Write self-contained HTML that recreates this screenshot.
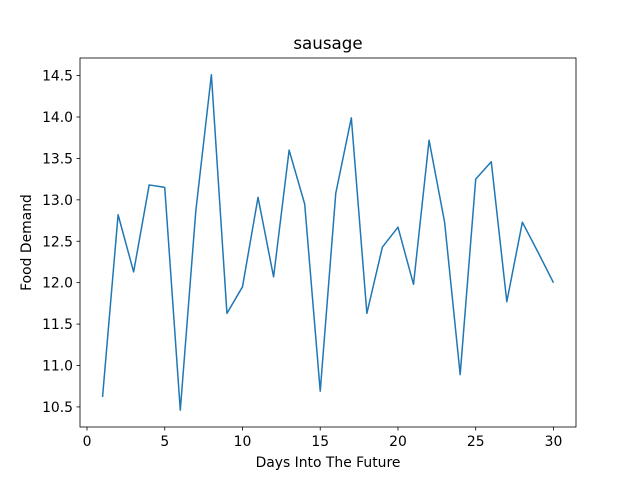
<!DOCTYPE html>
<html><head><meta charset="utf-8"><style>
body{margin:0;background:#fff;}
svg{display:block;font-family:"DejaVu Sans","Liberation Sans",sans-serif;}
</style></head><body>
<svg id="c" width="640" height="480"></svg>
<script>
const days=[1,2,3,4,5,6,7,8,9,10,11,12,13,14,15,16,17,18,19,20,21,22,23,24,25,26,27,28,29,30];
const demand=[10.62,12.82,12.13,13.18,13.15,10.46,12.87,14.51,11.63,11.95,13.03,12.07,13.6,12.95,10.69,13.08,13.99,11.63,12.43,12.67,11.98,13.72,12.73,10.89,13.25,13.46,11.77,12.73,12.37,12.0];
const xTicks=[0,5,10,15,20,25,30];
const yTicks=[10.5,11.0,11.5,12.0,12.5,13.0,13.5,14.0,14.5];
const L=80,R=576,T=58,B=427;
const ns="http://www.w3.org/2000/svg";
const svg=document.getElementById('c');
const xmin=Math.min(...days),xmax=Math.max(...days),xm=(xmax-xmin)*0.05;
const ymin=Math.min(...demand),ymax=Math.max(...demand),ym=(ymax-ymin)*0.05;
const sx=v=>L+(v-(xmin-xm))/((xmax+xm)-(xmin-xm))*(R-L);
const sy=v=>B-(v-(ymin-ym))/((ymax+ym)-(ymin-ym))*(B-T);
function el(t,a,p){const e=document.createElementNS(ns,t);for(const k in a)e.setAttribute(k,a[k]);(p||svg).appendChild(e);return e;}
const line=el('polyline',{points:days.map((d,i)=>sx(d)+','+sy(demand[i])).join(' '),fill:'none',stroke:'#1f77b4','stroke-width':1.5,'stroke-linejoin':'round'});


const frame=el('rect',{x:L,y:T,width:R-L,height:B-T,fill:'none',stroke:'#000','stroke-width':0.8});


xTicks.forEach(t=>{const x=sx(t);
 el('line',{x1:x,x2:x,y1:B,y2:B+3.5,stroke:'#000','stroke-width':0.8});
 const tx=el('text',{x:x,y:B+19,'text-anchor':'middle','font-size':13.9,fill:'#000'});tx.textContent=t;
 
 });
yTicks.forEach(t=>{const y=sy(t);
 el('line',{x1:L-3.5,x2:L,y1:y,y2:y,stroke:'#000','stroke-width':0.8});
 const tx=el('text',{x:L-7,y:y+5,'text-anchor':'end','font-size':13.9,fill:'#000'});tx.textContent=t.toFixed(1);
 
 });
const ti=el('text',{x:(L+R)/2,y:49,'text-anchor':'middle','font-size':16.7,fill:'#000'});ti.textContent='sausage';


const xl=el('text',{x:(L+R)/2,y:467,'text-anchor':'middle','font-size':13.9,fill:'#000'});xl.textContent='Days Into The Future';


const yl=el('text',{x:0,y:0,'text-anchor':'middle','font-size':13.9,fill:'#000',transform:'translate(31,'+((T+B)/2)+') rotate(-90)'});yl.textContent='Food Demand';


</script>
</body></html>
